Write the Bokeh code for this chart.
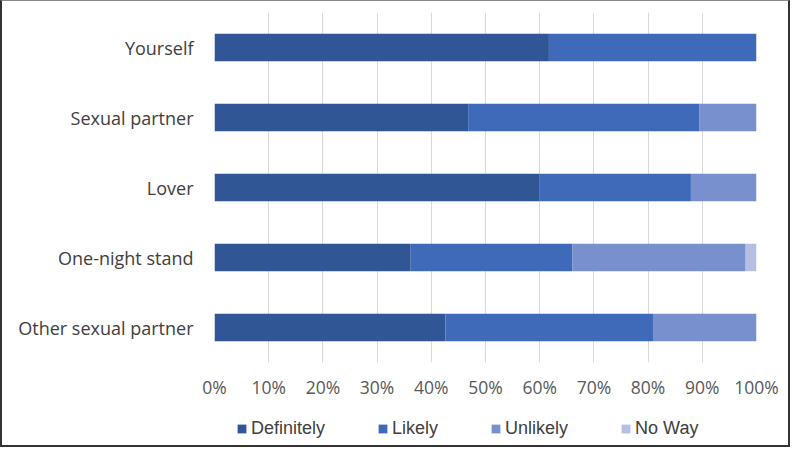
from bokeh.plotting import figure
from bokeh.layouts import column
from bokeh.models import (Legend, LegendItem, FixedTicker, PrintfTickFormatter,
                          ColumnDataSource, Range1d, FactorRange)
from bokeh.embed import file_html
from bokeh.resources import INLINE

categories = ["Yourself", "Sexual partner", "Lover", "One-night stand", "Other sexual partner"]
series = ["Definitely", "Likely", "Unlikely", "No Way"]
definitely = [61.7, 46.8, 60.0, 36.2, 42.6]
likely = [38.3, 42.7, 27.9, 29.8, 38.3]
unlikely = [0.0, 10.5, 12.1, 32.0, 19.1]
no_way = [0.0, 0.0, 0.0, 2.0, 0.0]
x_ticks = [0, 10, 20, 30, 40, 50, 60, 70, 80, 90, 100]
colors = ["#305696", "#3e6ab9", "#7990cf", "#b4bfe2"]

source = ColumnDataSource(data=dict(
    cat=categories,
    Definitely=definitely,
    Likely=likely,
    Unlikely=unlikely,
    **{"No Way": no_way},
))

# ---- main chart ----
p = figure(width=786, height=400, output_backend="svg", toolbar_location=None,
           y_range=FactorRange(*categories[::-1], range_padding=0),
           x_range=Range1d(0, 100))
p.y_range.range_padding = 0
p.min_border_left = 212
p.min_border_right = 32
p.min_border_top = 11
p.min_border_bottom = 39
p.outline_line_color = None
p.background_fill_color = "white"
p.border_fill_color = "white"

p.hbar_stack(series, y="cat", height=0.39, color=colors, line_color=None, source=source)

p.xaxis.ticker = FixedTicker(ticks=x_ticks)
p.xaxis.formatter = PrintfTickFormatter(format="%d%%")
p.xaxis.axis_line_color = None
p.xaxis.major_tick_line_color = None
p.xaxis.minor_tick_line_color = None
p.xaxis.major_label_text_font = "Open Sans"
p.xaxis.major_label_text_font_size = "17.5px"
p.xaxis.major_label_text_color = "#595959"
p.xaxis.major_label_standoff = 6

p.yaxis.axis_line_color = None
p.yaxis.major_tick_line_color = None
p.yaxis.minor_tick_line_color = None
p.yaxis.major_label_text_font = "Open Sans"
p.yaxis.major_label_text_font_size = "18px"
p.yaxis.major_label_text_color = "#404040"
p.yaxis.major_label_standoff = 15

p.xgrid.grid_line_color = "#d9d9d9"
p.xgrid.grid_line_width = 1
p.ygrid.grid_line_color = None

# ---- legend strip (same series; renderers hidden, only the legend shows) ----
lf = figure(width=786, height=44, output_backend="svg", toolbar_location=None,
            y_range=FactorRange(*categories[::-1]), x_range=Range1d(0, 100),
            x_axis_type=None, y_axis_type=None, min_border=0)
lf.outline_line_color = None
lf.xgrid.visible = False
lf.ygrid.visible = False
lrs = lf.hbar_stack(series, y="cat", height=0.39, color=colors, line_color=None, source=source)
for r in lrs:
    r.visible = False

items = [LegendItem(label=s, renderers=[r]) for s, r in zip(series, lrs)]
legend = Legend(items=items, orientation="horizontal", location=(22, 6),
                glyph_width=11, glyph_height=11, label_standoff=4, spacing=52,
                padding=0, margin=0, border_line_color=None,
                background_fill_alpha=0, click_policy="none",
                inactive_fill_alpha=0,
                label_text_font="Liberation Sans", label_text_font_size="18px",
                label_text_color="#404040")
lf.add_layout(legend, "center")

layout = column(p, lf, spacing=0)
layout.styles = {"border": "2px solid #333333", "border-top": "1px solid #8a8a8a"}

open("out.html", "w").write(file_html(layout, INLINE))
